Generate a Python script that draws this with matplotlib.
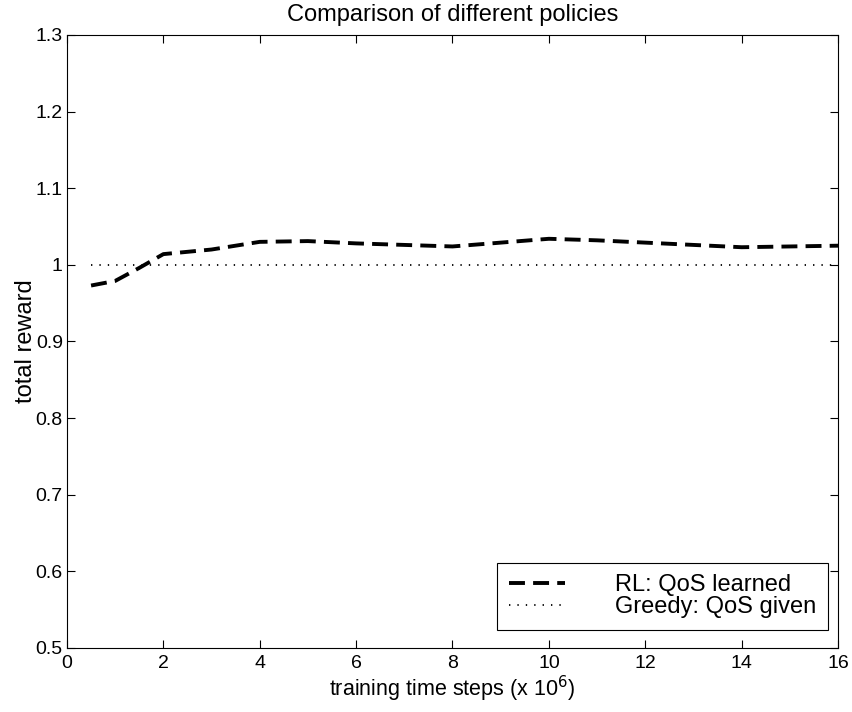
import numpy as np
import matplotlib
matplotlib.use("Agg")
import matplotlib.pyplot as plt

plt.rcParams['font.family'] = ['Liberation Sans', 'DejaVu Sans']

# training steps (x 1e6) and total reward
steps = [0.5, 1, 1.5, 2, 3, 4, 5, 6, 7, 8, 9, 10, 11, 12, 13, 14, 15, 16]
rl_reward = [0.973, 0.979, 0.996, 1.014, 1.020, 1.030, 1.031, 1.028, 1.026,
             1.024, 1.029, 1.034, 1.032, 1.029, 1.026, 1.023, 1.024, 1.025]
greedy_steps = [0.5, 16]
greedy_reward = [1.0, 1.0]

xticks = [0, 2, 4, 6, 8, 10, 12, 14, 16]
yticks = [0.5, 0.6, 0.7, 0.8, 0.9, 1.0, 1.1, 1.2, 1.3]
yticklabels = ['0.5', '0.6', '0.7', '0.8', '0.9', '1', '1.1', '1.2', '1.3']

fig = plt.figure(figsize=(8.52, 7.12), dpi=100)
ax = fig.add_axes([0.0786, 0.0899, 0.905, 0.861])

ax.plot(steps, rl_reward, color='black', lw=2.8, dashes=(4.1, 2.1),
        label='RL: QoS learned')
ax.plot(greedy_steps, greedy_reward, color='black', lw=1.3, dashes=(0.75, 3.9),
        label='Greedy: QoS given')

ax.set_xlim(0, 16)
ax.set_ylim(0.5, 1.3)
ax.set_xticks(xticks)
ax.set_yticks(yticks)
ax.set_yticklabels(yticklabels)
ax.tick_params(direction='in', top=True, right=True, length=6, width=0.8,
               labelsize=14)
ax.tick_params(axis='y', pad=3)
ax.tick_params(axis='x', pad=5)
for s in ax.spines.values():
    s.set_linewidth(0.8)

ax.set_title('Comparison of different policies', fontsize=17, pad=10)
ax.set_xlabel('training time steps (x 10$^{6}$)', fontsize=15.5, labelpad=1)
ax.set_ylabel('total reward', fontsize=17, labelpad=-1)

leg = ax.legend(loc='lower right', bbox_to_anchor=(0.987, 0.029), fontsize=17,
                fancybox=False, framealpha=1, edgecolor='black',
                handlelength=2.4, handletextpad=2.1, borderpad=0.5,
                borderaxespad=0, labelspacing=0.0)
leg.get_frame().set_linewidth(0.8)

fig.savefig('out.png', dpi=100)
